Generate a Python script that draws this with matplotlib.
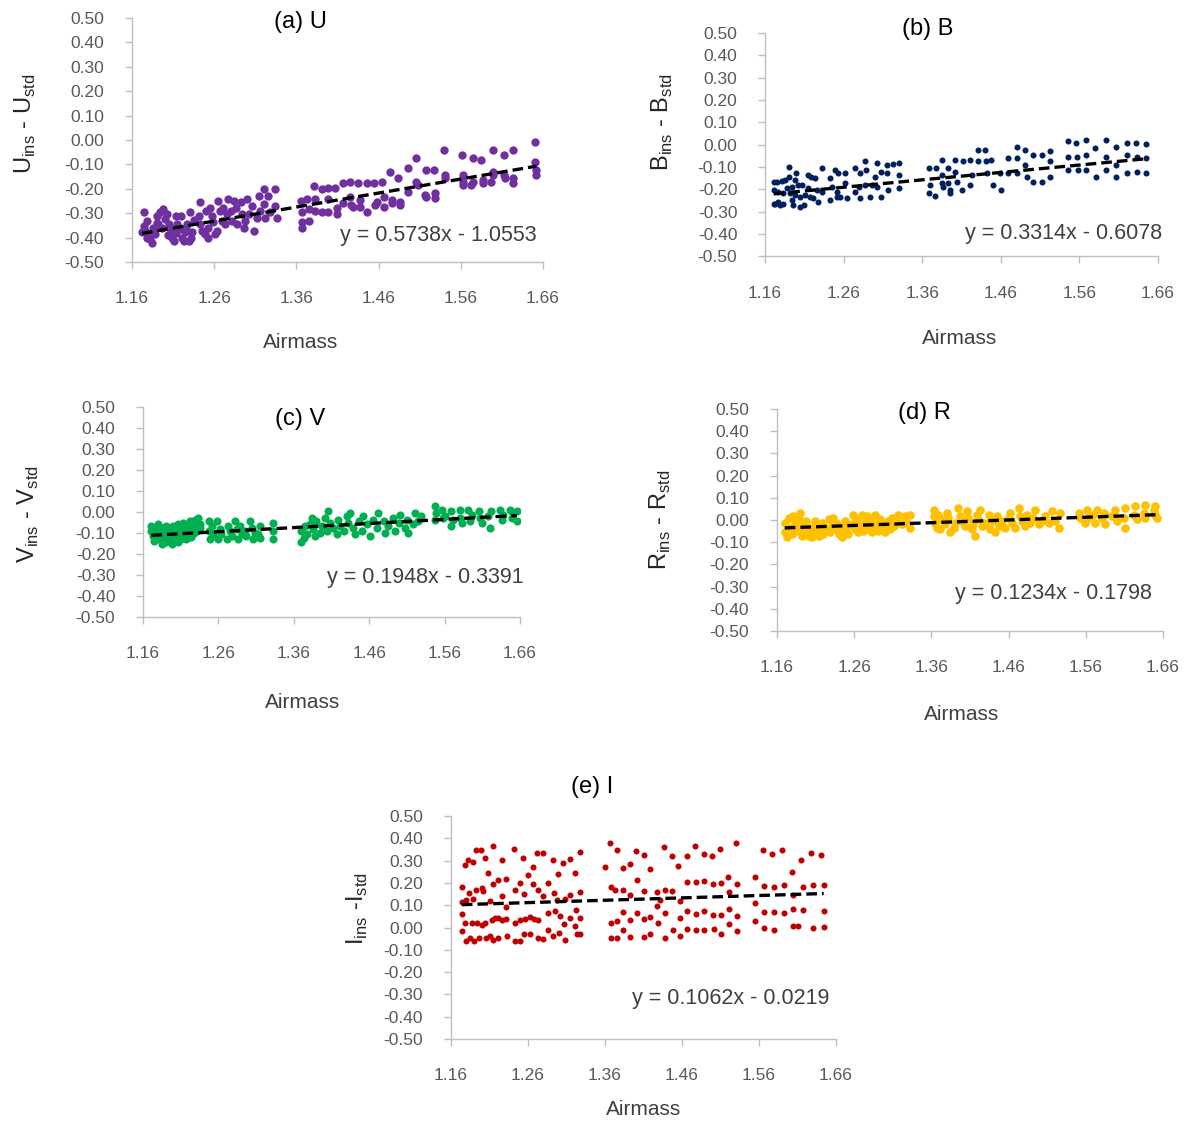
import numpy as np
import matplotlib
matplotlib.use('Agg')
import matplotlib.pyplot as plt

plt.rcParams['font.family'] = ['Liberation Sans', 'DejaVu Sans']
plt.rcParams['axes.unicode_minus'] = False
plt.rcParams['mathtext.fontset'] = 'custom'
plt.rcParams['mathtext.rm'] = 'Liberation Sans'

# axis ticks shared by all panels
airmass_ticks = [1.16, 1.26, 1.36, 1.46, 1.56, 1.66]
diff_ticks = [0.50, 0.40, 0.30, 0.20, 0.10, 0.00, -0.10, -0.20, -0.30, -0.40, -0.50]

# trend line coefficients (slope, intercept) as printed on each panel
coef_u = [0.5738, -1.0553]
coef_b = [0.3314, -0.6078]
coef_v = [0.1948, -0.3391]
coef_r = [0.1234, -0.1798]
coef_i = [0.1062, -0.0219]

# (a) U
u_air = [
    1.174, 1.174, 1.178, 1.176, 1.180, 1.182, 1.184, 1.172, 1.186, 1.188,
    1.190, 1.192, 1.194, 1.198, 1.200, 1.202, 1.205, 1.207, 1.209, 1.211,
    1.213, 1.215, 1.217, 1.219, 1.221, 1.223, 1.225, 1.227, 1.229, 1.231,
    1.233, 1.241, 1.243, 1.243, 1.245, 1.249, 1.253, 1.255, 1.257, 1.259,
    1.261, 1.263, 1.265, 1.267, 1.269, 1.271, 1.273, 1.275, 1.277, 1.280,
    1.282, 1.284, 1.286, 1.288, 1.292, 1.294, 1.296, 1.298, 1.300, 1.302,
    1.306, 1.308, 1.312, 1.314, 1.316, 1.320, 1.320, 1.322, 1.326, 1.328,
    1.334, 1.334, 1.336, 1.178, 1.196, 1.204, 1.214, 1.226, 1.232, 1.190,
    1.236, 1.250, 1.252,
    1.365, 1.367, 1.367, 1.367, 1.373, 1.375, 1.375, 1.381, 1.383, 1.383,
    1.391, 1.391, 1.399, 1.399, 1.399, 1.407, 1.409, 1.409,
    1.417, 1.417, 1.425, 1.425, 1.427, 1.429, 1.435, 1.437, 1.437, 1.446,
    1.446, 1.454, 1.456, 1.458, 1.464, 1.466, 1.466, 1.474, 1.476, 1.476,
    1.484, 1.486, 1.486, 1.496, 1.496, 1.506, 1.506, 1.508, 1.516, 1.518,
    1.518, 1.527, 1.529, 1.529, 1.539, 1.541, 1.541, 1.561, 1.563, 1.563,
    1.563, 1.573, 1.575, 1.575, 1.585, 1.587, 1.587, 1.597, 1.599, 1.599,
    1.599, 1.612, 1.612, 1.614, 1.624, 1.624, 1.624, 1.650, 1.650, 1.652,
    1.652]
u_diff = [
    -0.297, -0.352, -0.332, -0.373, -0.386, -0.407, -0.421, -0.379, -0.359, -0.386,
    -0.311, -0.345, -0.297, -0.284, -0.325, -0.304, -0.345, -0.373, -0.400, -0.414,
    -0.311, -0.345, -0.366, -0.311, -0.400, -0.414, -0.379, -0.345, -0.414, -0.297,
    -0.379, -0.311, -0.256, -0.345, -0.373, -0.386, -0.400, -0.277, -0.311, -0.338,
    -0.386, -0.373, -0.249, -0.290, -0.332, -0.277, -0.345, -0.304, -0.242, -0.290,
    -0.332, -0.249, -0.277, -0.345, -0.256, -0.304, -0.359, -0.332, -0.242, -0.304,
    -0.270, -0.373, -0.318, -0.229, -0.290, -0.201, -0.263, -0.318, -0.229, -0.297,
    -0.201, -0.270, -0.318, -0.400, -0.360, -0.390, -0.380, -0.360, -0.400, -0.340,
    -0.330, -0.290, -0.360,
    -0.249, -0.297, -0.338, -0.359, -0.242, -0.284, -0.332, -0.188, -0.242, -0.290,
    -0.201, -0.297, -0.195, -0.242, -0.297, -0.195, -0.277, -0.304,
    -0.178, -0.259, -0.171, -0.232, -0.266, -0.273, -0.178, -0.246, -0.273, -0.178,
    -0.294, -0.178, -0.266, -0.253, -0.171, -0.232, -0.273, -0.130, -0.246, -0.260,
    -0.157, -0.253, -0.266, -0.116, -0.212, -0.075, -0.171, -0.184, -0.225, -0.123,
    -0.232, -0.123, -0.219, -0.239, -0.041, -0.143, -0.157, -0.061, -0.143, -0.171,
    -0.184, -0.184, -0.075, -0.171, -0.082, -0.164, -0.178, -0.171, -0.041, -0.130,
    -0.143, -0.061, -0.143, -0.157, -0.041, -0.157, -0.178, -0.007, -0.089, -0.123,
    -0.143]

# (b) B
b_air = [
    1.171, 1.171, 1.171, 1.173, 1.175, 1.177, 1.177, 1.179, 1.181, 1.183,
    1.183, 1.185, 1.188, 1.190, 1.190, 1.192, 1.194, 1.194, 1.196, 1.198,
    1.198, 1.200, 1.202, 1.204, 1.204, 1.207, 1.209, 1.211, 1.215, 1.215,
    1.217, 1.219, 1.221, 1.224, 1.226, 1.228, 1.232, 1.232, 1.243, 1.243,
    1.245, 1.249, 1.251, 1.251, 1.253, 1.255, 1.262, 1.262, 1.264, 1.274,
    1.274, 1.279, 1.281, 1.281, 1.287, 1.287, 1.289, 1.294, 1.296, 1.300,
    1.302, 1.302, 1.308, 1.308, 1.315, 1.315, 1.317, 1.323, 1.330, 1.330,
    1.330,
    1.368, 1.368, 1.370, 1.376, 1.377, 1.385, 1.385, 1.385, 1.386, 1.393,
    1.393, 1.395, 1.395, 1.402, 1.402, 1.404, 1.411, 1.412, 1.421, 1.421,
    1.423, 1.431, 1.431, 1.440, 1.441, 1.442, 1.448, 1.450, 1.459, 1.460,
    1.469, 1.469, 1.480, 1.480, 1.481, 1.491, 1.491, 1.493, 1.501, 1.501,
    1.512, 1.512, 1.522, 1.522, 1.522,
    1.546, 1.546, 1.546, 1.556, 1.557, 1.558, 1.568, 1.568, 1.569, 1.580,
    1.581, 1.594, 1.594, 1.594, 1.606, 1.607, 1.607, 1.620, 1.620, 1.620,
    1.632, 1.633, 1.633, 1.645, 1.645, 1.645]
b_diff = [
    -0.168, -0.203, -0.263, -0.267, -0.165, -0.210, -0.258, -0.270, -0.162, -0.218,
    -0.263, -0.158, -0.195, -0.098, -0.143, -0.218, -0.188, -0.248, -0.270, -0.158,
    -0.225, -0.128, -0.180, -0.233, -0.278, -0.180, -0.270, -0.225, -0.135, -0.195,
    -0.233, -0.143, -0.240, -0.150, -0.203, -0.255, -0.105, -0.210, -0.150, -0.248,
    -0.188, -0.113, -0.210, -0.233, -0.128, -0.233, -0.128, -0.173, -0.240, -0.105,
    -0.210, -0.188, -0.128, -0.240, -0.075, -0.180, -0.113, -0.233, -0.180, -0.143,
    -0.083, -0.188, -0.233, -0.120, -0.090, -0.128, -0.203, -0.087, -0.083, -0.135,
    -0.195,
    -0.105, -0.218, -0.180, -0.228, -0.105, -0.068, -0.135, -0.173, -0.188, -0.105,
    -0.173, -0.203, -0.218, -0.068, -0.120, -0.165, -0.203, -0.075, -0.068, -0.180,
    -0.135, -0.023, -0.075, -0.023, -0.075, -0.128, -0.068, -0.180, -0.128, -0.203,
    -0.060, -0.128, -0.008, -0.060, -0.128, -0.023, -0.090, -0.143, -0.045, -0.168,
    -0.045, -0.168, -0.030, -0.075, -0.143,
    0.015, -0.053, -0.113, 0.008, -0.053, -0.113, 0.023, -0.045, -0.113, -0.015,
    -0.143, 0.020, -0.053, -0.113, -0.008, -0.090, -0.143, 0.008, -0.045, -0.128,
    0.008, -0.053, -0.123, 0.003, -0.060, -0.128]

# (c) V
v_air = [
    1.171, 1.171, 1.173, 1.174, 1.176, 1.178, 1.180, 1.182, 1.183, 1.185,
    1.186, 1.187, 1.189, 1.190, 1.191, 1.194, 1.195, 1.196, 1.198, 1.199,
    1.200, 1.202, 1.205, 1.206, 1.207, 1.209, 1.211, 1.213, 1.213, 1.216,
    1.218, 1.219, 1.221, 1.222, 1.225, 1.227, 1.229, 1.231, 1.233, 1.235,
    1.236, 1.177, 1.184, 1.192, 1.197, 1.203, 1.208, 1.212, 1.217, 1.223,
    1.228, 1.188, 1.201,
    1.247, 1.247, 1.249, 1.251, 1.253, 1.258, 1.260, 1.262, 1.264, 1.271,
    1.273, 1.275, 1.278, 1.282, 1.284, 1.286, 1.289, 1.291, 1.295, 1.297,
    1.302, 1.304, 1.306, 1.308, 1.313, 1.315, 1.315, 1.333, 1.333, 1.333,
    1.370, 1.370, 1.373, 1.375, 1.377, 1.381, 1.384, 1.386, 1.388, 1.390,
    1.395, 1.397, 1.401, 1.404, 1.406, 1.408, 1.412, 1.417, 1.419, 1.421,
    1.426, 1.430, 1.432, 1.434, 1.439, 1.441, 1.446, 1.450, 1.452, 1.457,
    1.461, 1.465, 1.470, 1.472, 1.479, 1.481, 1.485, 1.492, 1.494, 1.499,
    1.501, 1.507, 1.510, 1.512, 1.518, 1.521, 1.525, 1.529,
    1.547, 1.547, 1.549, 1.556, 1.558, 1.560, 1.569, 1.569, 1.571, 1.580,
    1.580, 1.583, 1.591, 1.594, 1.596, 1.605, 1.607, 1.609, 1.618, 1.620,
    1.622, 1.633, 1.636, 1.638, 1.647, 1.649, 1.651, 1.656, 1.656]
v_diff = [
    -0.067, -0.090, -0.114, -0.137, -0.075, -0.106, -0.059, -0.129, -0.090, -0.153,
    -0.075, -0.122, -0.098, -0.145, -0.067, -0.114, -0.137, -0.083, -0.106, -0.153,
    -0.067, -0.122, -0.090, -0.145, -0.059, -0.106, -0.129, -0.075, -0.051, -0.098,
    -0.122, -0.059, -0.083, -0.044, -0.106, -0.067, -0.036, -0.090, -0.028, -0.059,
    -0.075, -0.120, -0.110, -0.130, -0.120, -0.140, -0.120, -0.100, -0.130, -0.120,
    -0.100, -0.085, -0.095,
    -0.044, -0.090, -0.129, -0.067, -0.106, -0.044, -0.129, -0.083, -0.106, -0.129,
    -0.067, -0.090, -0.114, -0.044, -0.083, -0.129, -0.067, -0.106, -0.090, -0.114,
    -0.044, -0.075, -0.129, -0.098, -0.106, -0.067, -0.122, -0.051, -0.090, -0.129,
    -0.090, -0.145, -0.122, -0.067, -0.106, -0.059, -0.028, -0.083, -0.114, -0.044,
    -0.098, -0.067, -0.028, -0.090, 0.003, -0.051, -0.075, -0.106, -0.036, -0.067,
    -0.090, -0.020, -0.051, -0.005, -0.075, -0.106, -0.044, -0.090, -0.020, -0.059,
    -0.114, -0.036, -0.075, -0.005, -0.044, -0.098, -0.067, -0.028, -0.090, -0.051,
    -0.012, -0.075, -0.036, -0.098, -0.059, -0.005, -0.044, -0.020,
    0.027, -0.036, -0.005, 0.011, -0.028, -0.020, 0.003, -0.067, -0.036, 0.011,
    -0.028, -0.051, 0.011, -0.044, -0.012, 0.003, -0.028, -0.051, -0.020, -0.075,
    0.003, 0.011, -0.036, -0.012, 0.011, -0.028, -0.005, 0.003, -0.044]

# (d) R
r_air = [
    1.170, 1.170, 1.173, 1.175, 1.177, 1.179, 1.181, 1.183, 1.186, 1.188,
    1.190, 1.192, 1.194, 1.196, 1.198, 1.201, 1.203, 1.205, 1.207, 1.209,
    1.211, 1.214, 1.216, 1.218, 1.220, 1.222, 1.224, 1.227, 1.229, 1.231,
    1.233, 1.235, 1.237, 1.240, 1.242, 1.244, 1.246, 1.248, 1.250, 1.252,
    1.257, 1.259, 1.261, 1.263, 1.265, 1.268, 1.270, 1.272, 1.274, 1.276,
    1.278, 1.281, 1.283, 1.285, 1.287, 1.289, 1.291, 1.294, 1.296, 1.298,
    1.300, 1.304, 1.306, 1.309, 1.311, 1.313, 1.317, 1.319, 1.322, 1.326,
    1.328, 1.332, 1.332,
    1.363, 1.364, 1.365, 1.367, 1.369, 1.371, 1.373, 1.378, 1.380, 1.382,
    1.384, 1.389, 1.391, 1.395, 1.397, 1.399, 1.404, 1.406, 1.408, 1.412,
    1.414, 1.416, 1.419, 1.421, 1.423, 1.425, 1.430, 1.434, 1.436, 1.440,
    1.443, 1.445, 1.447, 1.451, 1.455, 1.460, 1.462, 1.464, 1.468, 1.473,
    1.475, 1.477, 1.481, 1.484, 1.488, 1.492, 1.494, 1.499, 1.503, 1.507,
    1.512, 1.516, 1.520, 1.525, 1.527,
    1.551, 1.553, 1.559, 1.561, 1.563, 1.570, 1.572, 1.574, 1.581, 1.583,
    1.585, 1.594, 1.598, 1.600, 1.609, 1.611, 1.611, 1.622, 1.624, 1.626,
    1.635, 1.637, 1.637, 1.648, 1.650, 1.650, 1.652]
r_diff = [
    -0.012, -0.056, -0.077, 0.010, -0.034, -0.063, 0.017, -0.019, -0.048, 0.003,
    0.032, -0.070, -0.027, -0.048, -0.005, -0.070, -0.034, -0.077, -0.056, -0.005,
    -0.027, -0.070, -0.041, -0.012, -0.063, -0.034, -0.048, 0.003, -0.056, -0.027,
    0.010, -0.041, -0.012, -0.063, -0.027, -0.077, -0.048, -0.005, -0.034, -0.063,
    -0.019, 0.024, -0.041, 0.003, -0.056, -0.027, 0.024, -0.048, -0.012, 0.017,
    -0.041, -0.005, -0.056, -0.027, 0.024, -0.012, -0.048, 0.003, -0.034, -0.019,
    -0.056, -0.005, -0.041, 0.010, -0.027, -0.012, 0.024, -0.005, -0.019, 0.017,
    -0.012, 0.024, -0.034,
    0.046, 0.017, -0.012, -0.034, 0.024, -0.041, 0.003, -0.019, 0.032, 0.010,
    -0.056, -0.034, -0.012, 0.053, 0.017, -0.005, -0.027, 0.039, 0.010, -0.041,
    -0.019, -0.070, 0.024, 0.003, 0.046, -0.027, -0.012, 0.024, -0.041, -0.005,
    -0.056, 0.017, -0.027, -0.005, -0.034, 0.010, 0.032, -0.012, -0.034, 0.053,
    0.017, -0.005, -0.027, 0.024, -0.012, 0.010, 0.046, -0.019, -0.005, 0.017,
    -0.012, 0.039, -0.005, -0.034, 0.032,
    0.032, 0.010, -0.012, 0.046, 0.010, 0.024, -0.012, 0.046, 0.010, 0.032,
    -0.019, 0.017, 0.046, -0.005, 0.010, 0.053, -0.034, 0.024, 0.061, 0.003,
    0.032, 0.068, 0.010, 0.046, 0.061, 0.024, 0.010]

# (e) I
i_air = [
    1.174, 1.174, 1.174, 1.174, 1.178, 1.178, 1.179, 1.179, 1.182, 1.184,
    1.185, 1.187, 1.189, 1.189, 1.190, 1.193, 1.193, 1.194, 1.196, 1.199,
    1.200, 1.200, 1.202, 1.204, 1.204, 1.205, 1.208, 1.210, 1.211, 1.213,
    1.214, 1.215, 1.215, 1.217, 1.221, 1.221, 1.221, 1.226, 1.226, 1.226,
    1.231, 1.232, 1.232, 1.233, 1.242, 1.243, 1.243, 1.243, 1.249, 1.249,
    1.250, 1.254, 1.255, 1.255, 1.256, 1.260, 1.262, 1.262, 1.266, 1.267,
    1.268, 1.272, 1.273, 1.273, 1.273, 1.279, 1.280, 1.280, 1.286, 1.286,
    1.286, 1.293, 1.293, 1.294, 1.295, 1.298, 1.299, 1.300, 1.302, 1.306,
    1.307, 1.308, 1.308, 1.314, 1.315, 1.315, 1.321, 1.321, 1.322, 1.323,
    1.328, 1.328, 1.328, 1.328,
    1.360, 1.367, 1.368, 1.368, 1.368, 1.373, 1.375, 1.376, 1.376, 1.383,
    1.384, 1.384, 1.384, 1.392, 1.393, 1.393, 1.393, 1.400, 1.401, 1.401,
    1.410, 1.410, 1.410, 1.410, 1.418, 1.419, 1.419, 1.427, 1.428, 1.429,
    1.431, 1.437, 1.438, 1.438, 1.438, 1.447, 1.447, 1.448, 1.455, 1.457,
    1.457, 1.457, 1.466, 1.467, 1.467, 1.467, 1.477, 1.478, 1.478, 1.478,
    1.488, 1.489, 1.489, 1.489, 1.499, 1.500, 1.500, 1.501, 1.509, 1.510,
    1.510, 1.510, 1.520, 1.521, 1.521, 1.521, 1.530, 1.531, 1.531, 1.531,
    1.555, 1.555, 1.555, 1.565, 1.566, 1.566, 1.566, 1.577, 1.579, 1.579,
    1.579, 1.590, 1.592, 1.592, 1.603, 1.604, 1.604, 1.604, 1.611, 1.615,
    1.617, 1.617, 1.628, 1.630, 1.630, 1.641, 1.644, 1.644, 1.644]
i_diff = [
    0.182, 0.113, 0.063, -0.016, 0.282, 0.021, -0.061, 0.122, 0.304, 0.155,
    -0.046, 0.021, 0.296, 0.130, -0.061, 0.170, 0.346, 0.021, -0.046, 0.346,
    0.177, 0.013, 0.162, 0.311, 0.021, -0.046, 0.244, 0.118, -0.039, 0.036,
    0.366, 0.195, -0.054, 0.043, 0.215, 0.043, -0.046, 0.304, 0.143, 0.036,
    0.219, 0.092, 0.039, -0.039, 0.353, 0.170, 0.021, -0.061, 0.200, -0.061,
    0.033, 0.311, 0.152, -0.031, 0.039, 0.237, 0.048, -0.028, 0.271, 0.195,
    0.039, 0.334, 0.167, 0.036, -0.046, 0.334, 0.143, -0.051, 0.200, 0.066,
    -0.009, 0.304, -0.039, 0.155, 0.076, 0.125, 0.241, -0.024, 0.051, 0.289,
    0.016, 0.128, -0.054, 0.308, 0.147, 0.043, 0.244, 0.006, 0.077, -0.031,
    0.340, 0.158, 0.043, -0.031,
    0.270, 0.378, 0.180, 0.021, -0.049, 0.170, 0.346, 0.028, -0.049, 0.267,
    0.170, 0.070, -0.012, 0.285, 0.147, 0.036, -0.042, 0.344, 0.215, 0.066,
    0.326, 0.165, 0.039, -0.043, 0.264, 0.048, -0.027, 0.158, 0.095, 0.021,
    0.125, 0.361, 0.167, 0.066, -0.049, 0.319, 0.165, -0.009, 0.277, 0.043,
    0.121, -0.039, 0.322, 0.203, 0.073, -0.005, 0.364, 0.203, 0.061, -0.012,
    0.331, 0.207, 0.073, -0.012, 0.319, 0.195, 0.058, -0.006, 0.353, 0.200,
    0.055, -0.027, 0.229, 0.158, 0.083, 0.016, 0.378, 0.195, 0.051, -0.016,
    0.229, 0.110, 0.028, 0.346, 0.185, 0.071, -0.002, 0.331, 0.182, 0.071,
    -0.009, 0.346, 0.192, 0.066, 0.249, 0.144, 0.083, 0.006, 0.006, 0.301,
    0.182, 0.077, 0.334, 0.192, -0.002, 0.326, 0.192, 0.073, 0.001]


def draw_panel(rect, air, diff, coef, color, msize, title, ylabel,
               title_xy, eq_xy, ylab_xy, xlab_xy):
    ax = fig.add_axes(rect)
    ax.scatter(air, diff, s=msize, color=color, linewidths=0, zorder=2)
    xs = np.array([min(air), max(air)])
    ax.plot(xs, coef[0] * xs + coef[1], color='black', lw=2.4,
            linestyle=(0, (3.2, 1.5)), zorder=3)

    ax.set_xlim(1.16, 1.66)
    ax.set_ylim(-0.5, 0.5)
    ax.set_xticks(airmass_ticks)
    ax.set_xticklabels(['%.2f' % t for t in airmass_ticks])
    ax.set_yticks(diff_ticks)
    ax.set_yticklabels(['%.2f' % t for t in diff_ticks])

    for side in ['top', 'right']:
        ax.spines[side].set_visible(False)
    for side in ['left', 'bottom']:
        ax.spines[side].set_color('#BFBFBF')
        ax.spines[side].set_linewidth(1.0)
    ax.tick_params(axis='x', length=5, width=1.0, color='#BFBFBF', pad=16,
                   labelsize=12.5, labelcolor='#595959')
    ax.tick_params(axis='y', length=5, width=1.0, color='#BFBFBF', pad=15,
                   labelsize=12.5, labelcolor='#595959')

    ax.set_ylabel(ylabel, fontsize=17, color='#262626', va='center')
    ax.yaxis.set_label_coords(*ylab_xy)
    ax.set_xlabel('Airmass', fontsize=15, color='#404040', va='center')
    ax.xaxis.set_label_coords(*xlab_xy)

    ax.text(title_xy[0], title_xy[1], title, transform=ax.transAxes,
            ha='center', va='center', fontsize=17, color='black')
    eq = 'y = %.4fx - %.4f' % (coef[0], -coef[1])
    ax.text(eq_xy[0], eq_xy[1], eq, transform=ax.transAxes,
            ha='right', va='center', fontsize=15.5, color='#404040')
    return ax


fig = plt.figure(figsize=(11.85, 11.21), dpi=100)

draw_panel([0.1114, 0.7663, 0.3468, 0.2177], u_air, u_diff, coef_u, '#7030A0', 36,
           '(a) U', r'U$_{\rm ins}$ - U$_{\rm std}$',
           (0.409, 0.984), (0.985, 0.107), (-0.260, 0.566), (0.409, -0.332))
draw_panel([0.6456, 0.7712, 0.3316, 0.1994], b_air, b_diff, coef_b, '#002060', 19,
           '(b) B', r'B$_{\rm ins}$ - B$_{\rm std}$',
           (0.415, 1.018), (1.010, 0.105), (-0.262, 0.602), (0.496, -0.365))
draw_panel([0.1207, 0.4496, 0.3181, 0.1873], v_air, v_diff, coef_v, '#00B050', 34,
           '(c) V', r'V$_{\rm ins}$ - V$_{\rm std}$',
           (0.416, 0.943), (1.011, 0.186), (-0.305, 0.49), (0.422, -0.405))
draw_panel([0.6557, 0.4371, 0.3257, 0.1980], r_air, r_diff, coef_r, '#FFC000', 38,
           '(d) R', r'R$_{\rm ins}$ - R$_{\rm std}$',
           (0.383, 0.982), (0.972, 0.167), (-0.303, 0.50), (0.479, -0.374))
draw_panel([0.3806, 0.0731, 0.3249, 0.1989], i_air, i_diff, coef_i, '#C00000', 19,
           '(e) I', r'I$_{\rm ins}$ -I$_{\rm std}$',
           (0.366, 1.13), (0.984, 0.184), (-0.242, 0.587), (0.499, -0.318))

fig.savefig('out.png', dpi=100)
